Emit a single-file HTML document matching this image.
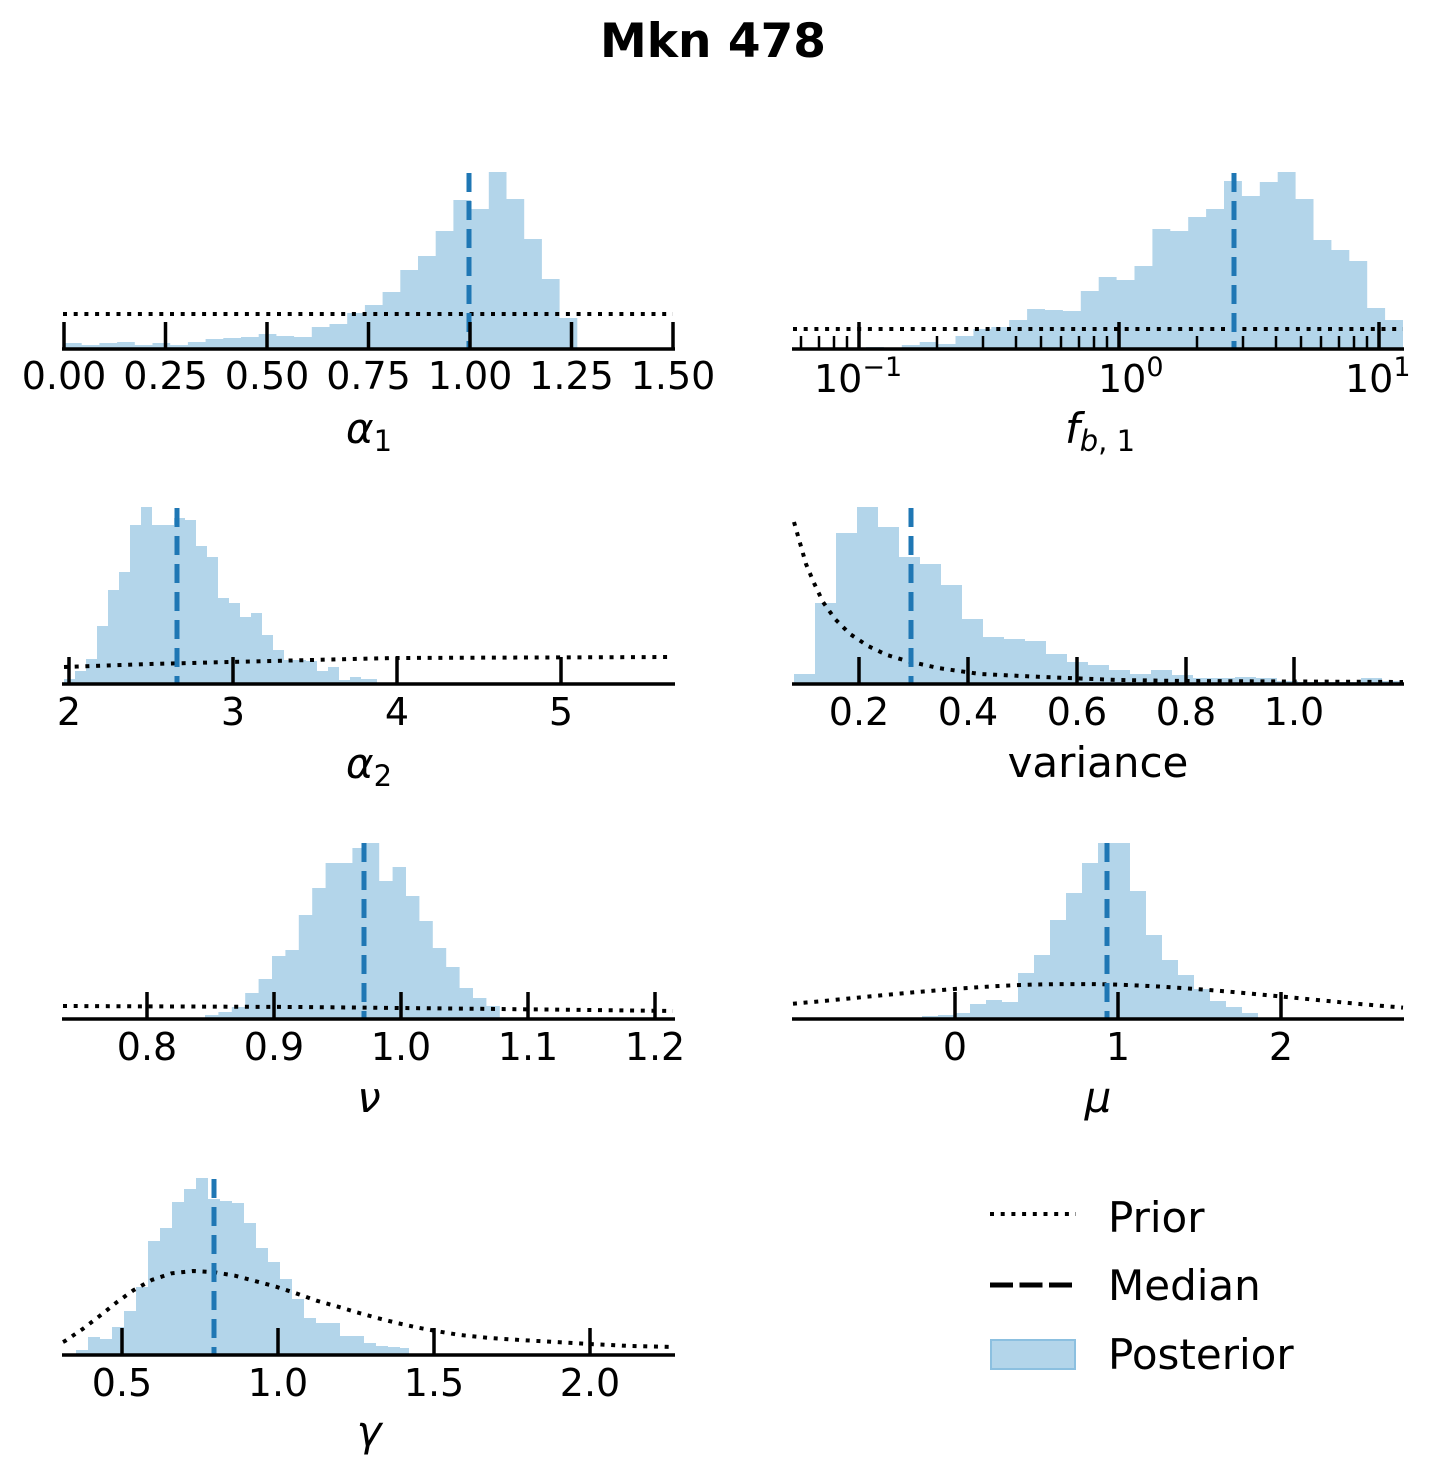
<!DOCTYPE html>
<html><head><meta charset="utf-8"><style>
html,body{margin:0;padding:0;background:#fff;}
svg{display:block;}
text{font-family:"DejaVu Sans","Liberation Sans",sans-serif;fill:#000;}
.t{font-size:38px;text-anchor:middle;}
.l{font-size:42px;text-anchor:middle;}
.h{fill:#b3d5ea;}
.ax{stroke:#000;stroke-width:3.5;fill:none;}
.tk{stroke:#000;stroke-width:3.5;}
.mt{stroke:#000;stroke-width:2.5;}
.pr{stroke:#000;stroke-width:4;fill:none;stroke-dasharray:4 6.7;}
.md{stroke:#1f77b4;stroke-width:5;stroke-dasharray:19 9;}
</style></head><body>
<svg width="1432" height="1476" viewBox="0 0 1432 1476" xmlns="http://www.w3.org/2000/svg">
<text x="713" y="57" style="font-size:47px;font-weight:bold;text-anchor:middle">Mkn 478</text>

<!-- Panel 1 -->
<path class="h" d="M64 349 V343 H81.7 V345 H99.4 V343 H117.1 V342 H134.8 V345 H152.5 V343 H170.2 V345 H187.9 V342 H205.6 V339 H223.3 V338 H241 V337 H258.7 V334 H276.4 V336 H294.1 V337 H311.8 V327 H329.5 V324 H347.2 V313 H364.9 V305 H382.6 V292 H400.3 V270 H418 V256 H435.7 V231 H453.4 V200 H471.1 V209 H488.8 V172 H506.5 V199 H524.2 V239 H541.9 V279 H559.6 V318 H577.3 V349 Z"/>
<line class="pr" x1="63" y1="314" x2="673" y2="314"/>
<line class="md" x1="469" y1="173" x2="469" y2="349"/>
<g class="tk"><line x1="64" y1="322" x2="64" y2="349"/><line x1="165.5" y1="322" x2="165.5" y2="349"/><line x1="267" y1="322" x2="267" y2="349"/><line x1="368.5" y1="322" x2="368.5" y2="349"/><line x1="470" y1="322" x2="470" y2="349"/><line x1="571.5" y1="322" x2="571.5" y2="349"/><line x1="673" y1="322" x2="673" y2="349"/></g>
<line class="ax" x1="62" y1="349" x2="675" y2="349"/>
<g class="t"><text x="64" y="389">0.00</text><text x="165.5" y="389">0.25</text><text x="267" y="389">0.50</text><text x="368.5" y="389">0.75</text><text x="470" y="389">1.00</text><text x="571.5" y="389">1.25</text><text x="673" y="389">1.50</text></g>
<text class="l" x="369" y="443"><tspan font-style="italic">α</tspan><tspan font-size="29" dy="8">1</tspan></text>

<!-- Panel 2 -->
<path class="h" d="M866 349 V347 H883.9 V349 H901.8 V345 H919.7 V342 H937.6 V344 H955.5 V336 H973.4 V329 H991.3 V327 H1009.2 V320 H1027.1 V309 H1045 V310 H1062.9 V311 H1080.8 V291 H1098.7 V277 H1116.6 V280 H1134.5 V266 H1152.4 V229 H1170.3 V231 H1188.2 V217 H1206.1 V209 H1224 V181 H1241.9 V196 H1259.8 V182 H1277.7 V172 H1295.6 V199 H1313.5 V240 H1331.4 V250 H1349.3 V261 H1367.2 V308 H1385.1 V320 H1403 V349 Z"/>
<line class="pr" x1="793" y1="329" x2="1403" y2="329"/>
<line class="md" x1="1234" y1="173" x2="1234" y2="349"/>
<g class="tk"><line x1="859" y1="322" x2="859" y2="349"/><line x1="1119" y1="322" x2="1119" y2="349"/><line x1="1379" y1="322" x2="1379" y2="349"/></g>
<g class="mt">
<line x1="801" y1="336" x2="801" y2="349"/><line x1="819" y1="336" x2="819" y2="349"/><line x1="834" y1="336" x2="834" y2="349"/><line x1="847" y1="336" x2="847" y2="349"/>
<line x1="937" y1="336" x2="937" y2="349"/><line x1="983" y1="336" x2="983" y2="349"/><line x1="1016" y1="336" x2="1016" y2="349"/><line x1="1041" y1="336" x2="1041" y2="349"/><line x1="1061" y1="336" x2="1061" y2="349"/><line x1="1079" y1="336" x2="1079" y2="349"/><line x1="1094" y1="336" x2="1094" y2="349"/><line x1="1107" y1="336" x2="1107" y2="349"/>
<line x1="1197" y1="336" x2="1197" y2="349"/><line x1="1243" y1="336" x2="1243" y2="349"/><line x1="1276" y1="336" x2="1276" y2="349"/><line x1="1301" y1="336" x2="1301" y2="349"/><line x1="1321" y1="336" x2="1321" y2="349"/><line x1="1339" y1="336" x2="1339" y2="349"/><line x1="1354" y1="336" x2="1354" y2="349"/><line x1="1367" y1="336" x2="1367" y2="349"/>
</g>
<line class="ax" x1="792" y1="349" x2="1404" y2="349"/>
<text x="814" y="392" style="font-size:38px">10<tspan font-size="27" dy="-16">−1</tspan></text>
<text x="1098" y="392" style="font-size:38px">10<tspan font-size="27" dy="-16">0</tspan></text>
<text x="1345" y="392" style="font-size:38px">10<tspan font-size="27" dy="-16">1</tspan></text>
<text class="l" x="1100" y="443"><tspan font-style="italic">f</tspan><tspan font-size="29" dy="8"><tspan font-style="italic">b</tspan>, 1</tspan></text>

<!-- Panel 3 -->
<path class="h" d="M64 684 V679 H75 V671 H86 V659 H97 V626 H108 V590 H119 V572 H130 V525 H141 V507 H152 V525 H163 V525 H174 V518 H185 V520 H196 V546 H207 V557 H218 V598 H229 V603 H240 V617 H251 V613 H262 V635 H273 V650 H284 V660 H295 V660 H306 V661 H317 V671 H328 V667 H339 V680 H350 V677 H361 V679 H372 V679 H377 V684 Z"/>
<polyline class="pr" points="64,667 150,664 230,662 393,658 673,657"/>
<line class="md" x1="177" y1="508" x2="177" y2="684"/>
<g class="tk"><line x1="69" y1="657" x2="69" y2="684"/><line x1="233" y1="657" x2="233" y2="684"/><line x1="397" y1="657" x2="397" y2="684"/><line x1="561" y1="657" x2="561" y2="684"/></g>
<line class="ax" x1="62" y1="684" x2="675" y2="684"/>
<g class="t"><text x="69" y="725">2</text><text x="233" y="725">3</text><text x="397" y="725">4</text><text x="561" y="725">5</text></g>
<text class="l" x="369" y="778"><tspan font-style="italic">α</tspan><tspan font-size="29" dy="8">2</tspan></text>

<!-- Panel 4 -->
<path class="h" d="M794 684 V674 H815 V603 H836 V533 H857 V507 H878 V527 H899 V557 H920 V564 H941 V585 H962 V619 H983 V637 H1004 V639 H1025 V641 H1046 V654 H1067 V662 H1088 V665 H1109 V670 H1130 V674 H1151 V670 H1172 V675 H1193 V678 H1214 V678 H1235 V677 H1256 V678 H1277 V681 H1298 V682 H1319 V682 H1340 V682 H1361 V678 H1382 V681 H1403 V684 Z"/>
<path class="pr" d="M794 522 L800 543 L806 564 L814 583 L823 602 L835 619 L850 634 L868 646 L887 655 L907 661 L938 668 L980 674 L1043 677 L1118 680 L1185 681 L1403 682"/>
<line class="md" x1="911" y1="508" x2="911" y2="684"/>
<g class="tk"><line x1="859" y1="657" x2="859" y2="684"/><line x1="968" y1="657" x2="968" y2="684"/><line x1="1077" y1="657" x2="1077" y2="684"/><line x1="1186" y1="657" x2="1186" y2="684"/><line x1="1294" y1="657" x2="1294" y2="684"/></g>
<line class="ax" x1="792" y1="684" x2="1404" y2="684"/>
<g class="t"><text x="859" y="725">0.2</text><text x="968" y="725">0.4</text><text x="1077" y="725">0.6</text><text x="1186" y="725">0.8</text><text x="1294" y="725">1.0</text></g>
<text class="l" x="1098" y="777">variance</text>

<!-- Panel 5 -->
<path class="h" d="M205 1019 V1015 H218.4 V1012 H231.8 V1007 H245.2 V993 H258.6 V979 H272 V956 H285.4 V950 H298.8 V915 H312.2 V888 H325.6 V863 H339 V863 H352.4 V848 H365.8 V843 H379.2 V881 H392.6 V867 H406 V896 H419.4 V921 H432.8 V948 H446.2 V967 H459.6 V988 H473 V998 H486.4 V1006 H499.8 V1019 Z"/>
<polyline class="pr" points="63,1006 300,1007 500,1009 673,1011"/>
<line class="md" x1="364" y1="843" x2="364" y2="1019"/>
<g class="tk"><line x1="147" y1="992" x2="147" y2="1019"/><line x1="274" y1="992" x2="274" y2="1019"/><line x1="401" y1="992" x2="401" y2="1019"/><line x1="528" y1="992" x2="528" y2="1019"/><line x1="655" y1="992" x2="655" y2="1019"/></g>
<line class="ax" x1="62" y1="1019" x2="675" y2="1019"/>
<g class="t"><text x="147" y="1060">0.8</text><text x="274" y="1060">0.9</text><text x="401" y="1060">1.0</text><text x="528" y="1060">1.1</text><text x="655" y="1060">1.2</text></g>
<text class="l" x="369" y="1112" font-style="italic">ν</text>

<!-- Panel 6 -->
<path class="h" d="M922 1019 V1016 H938 V1015 H954 V1013 H970 V1004 H986 V1000 H1002 V1002 H1018 V973 H1034 V955 H1050 V920 H1066 V893 H1082 V863 H1098 V843 H1114 V843 H1130 V891 H1146 V935 H1162 V960 H1178 V975 H1194 V989 H1210 V1001 H1226 V1007 H1242 V1013 H1258 V1019 Z"/>
<path class="pr" d="M793 1003.7 C813 1002 834 1000 854 998 C874 996 895 994 915 992.2 C935 990.5 956 988.8 976 987.4 C996 986 1017 985 1037 984.5 C1057 984 1078 984 1098 984.2 C1118 984.5 1139 985.5 1159 986.5 C1179 987.8 1200 989.2 1220 990.9 C1240 992.6 1261 994.5 1281 996.5 C1301 998.4 1322 1000.4 1342 1002.4 C1362 1004.2 1383 1006 1403 1007.6"/>
<line class="md" x1="1107" y1="843" x2="1107" y2="1019"/>
<g class="tk"><line x1="955" y1="992" x2="955" y2="1019"/><line x1="1118" y1="992" x2="1118" y2="1019"/><line x1="1281" y1="992" x2="1281" y2="1019"/></g>
<line class="ax" x1="792" y1="1019" x2="1404" y2="1019"/>
<g class="t"><text x="955" y="1060">0</text><text x="1118" y="1060">1</text><text x="1281" y="1060">2</text></g>
<text class="l" x="1098" y="1112" font-style="italic">μ</text>

<!-- Panel 7 -->
<path class="h" d="M76 1355 V1350 H88 V1337 H100 V1339 H112 V1327 H124 V1311 H136 V1287 H148 V1241 H160 V1228 H172 V1202 H184 V1189 H196 V1178 H208 V1199 H220 V1201 H232 V1203 H244 V1223 H256 V1248 H268 V1262 H280 V1279 H292 V1299 H304 V1318 H316 V1323 H328 V1323 H340 V1336 H352 V1336 H364 V1343 H376 V1346 H388 V1347 H400 V1348 H409 V1355 Z"/>
<path class="pr" d="M63 1342 L65 1341 L82.7 1329 L100 1315.7 L116.7 1302.3 L133.3 1290.3 L151.7 1280 L171.7 1273.3 L193.3 1271 L215 1272.3 L235 1275.7 L255 1281 L276 1286.7 L296 1293.3 L316.7 1300.7 L336.7 1306.3 L356.7 1312.3 L377.3 1318 L398.3 1323.3 L418.3 1327.7 L440 1331.7 L460 1335 L490 1338 L520 1340 L555 1342 L590 1344 L630 1346 L673 1347"/>
<line class="md" x1="214" y1="1179" x2="214" y2="1355"/>
<g class="tk"><line x1="122" y1="1328" x2="122" y2="1355"/><line x1="278" y1="1328" x2="278" y2="1355"/><line x1="434" y1="1328" x2="434" y2="1355"/><line x1="590" y1="1328" x2="590" y2="1355"/></g>
<line class="ax" x1="62" y1="1355" x2="675" y2="1355"/>
<g class="t"><text x="122" y="1396">0.5</text><text x="278" y="1396">1.0</text><text x="434" y="1396">1.5</text><text x="590" y="1396">2.0</text></g>
<text class="l" x="369" y="1446" font-style="italic">γ</text>

<!-- Legend -->
<line class="pr" x1="990" y1="1214" x2="1076" y2="1214"/>
<text x="1108" y="1232" style="font-size:42px">Prior</text>
<line x1="990" y1="1285" x2="1076" y2="1285" stroke="#000" stroke-width="5" stroke-dasharray="23 6.5"/>
<text x="1108" y="1300" style="font-size:42px">Median</text>
<rect x="991" y="1340" width="84" height="29" fill="#b3d5ea" stroke="#8cc0e0" stroke-width="2"/>
<text x="1108" y="1369" style="font-size:42px">Posterior</text>
</svg>
</body></html>
